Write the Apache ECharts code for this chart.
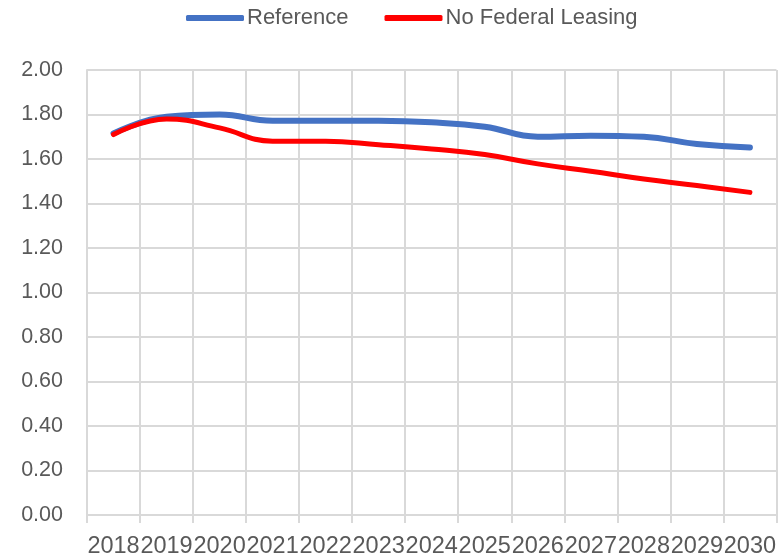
<!DOCTYPE html>
<html>
<head>
<meta charset="utf-8">
<script src="https://cdn.jsdelivr.net/npm/echarts@6/dist/echarts.min.js"></script>
<style>
    html, body { margin: 0; padding: 0; background: #fff; }
    #chart { width: 779px; height: 559px; }
</style>
</head>
<body>
<div id="chart"></div>
<script>
// categories and series
const years = ['2018', '2019', '2020', '2021', '2022', '2023', '2024', '2025', '2026', '2027', '2028', '2029', '2030'];
const reference = [1.715, 1.79, 1.80, 1.772, 1.772, 1.772, 1.765, 1.745, 1.70, 1.705, 1.70, 1.667, 1.652];
const noFederalLeasing = [1.71, 1.78, 1.74, 1.68, 1.68, 1.664, 1.645, 1.62, 1.578, 1.545, 1.51, 1.481, 1.45];
const seriesNames = ['Reference', 'No Federal Leasing'];
const seriesColors = ['#4472C4', '#FF0000'];

const font = '"Liberation Sans", Arial, sans-serif';
const gridColor = '#d9d9d9';
const textColor = '#595959';

let chart = echarts.init(document.getElementById('chart'));

let option = {
    animation: false,
    color: seriesColors,
    //图例
    legend: {
        left: 181,
        top: 2,
        itemWidth: 58,
        itemHeight: 6,
        itemGap: 36,
        icon: 'roundRect',
        textStyle: { fontFamily: font, fontSize: 22, color: textColor, padding: [0, 0, 0, -2] },
        data: seriesNames
    },
    grid: {
        left: 87,
        right: 1,
        top: 70,
        bottom: 44
    },
    xAxis: {
        type: 'category',
        data: years,
        boundaryGap: true,
        axisLine: { lineStyle: { color: gridColor, width: 2 } },
        axisTick: { show: true, length: 8, lineStyle: { color: gridColor, width: 2 } },
        axisLabel: { interval: 0, margin: 20, fontFamily: font, fontSize: 23.5, color: textColor },
        splitLine: { show: true, interval: 0, lineStyle: { color: gridColor, width: 2 } }
    },
    yAxis: {
        type: 'value',
        min: 0,
        max: 2,
        interval: 0.2,
        axisLine: { show: true, lineStyle: { color: gridColor, width: 2 } },
        axisTick: { show: false },
        axisLabel: {
            margin: 24,
            fontFamily: font,
            fontSize: 21.5,
            color: textColor,
            formatter: v => v.toFixed(2)
        },
        splitLine: { lineStyle: { color: gridColor, width: 2 } }
    },
    series: [reference, noFederalLeasing].map((data, i) => ({
        type: 'line',
        name: seriesNames[i],
        data,
        smooth: 0.45,
        symbol: 'none',
        lineStyle: { width: i === 0 ? 6 : 5, cap: 'round', join: 'round' }
    }))
};

chart.setOption(option);
</script>
</body>
</html>
